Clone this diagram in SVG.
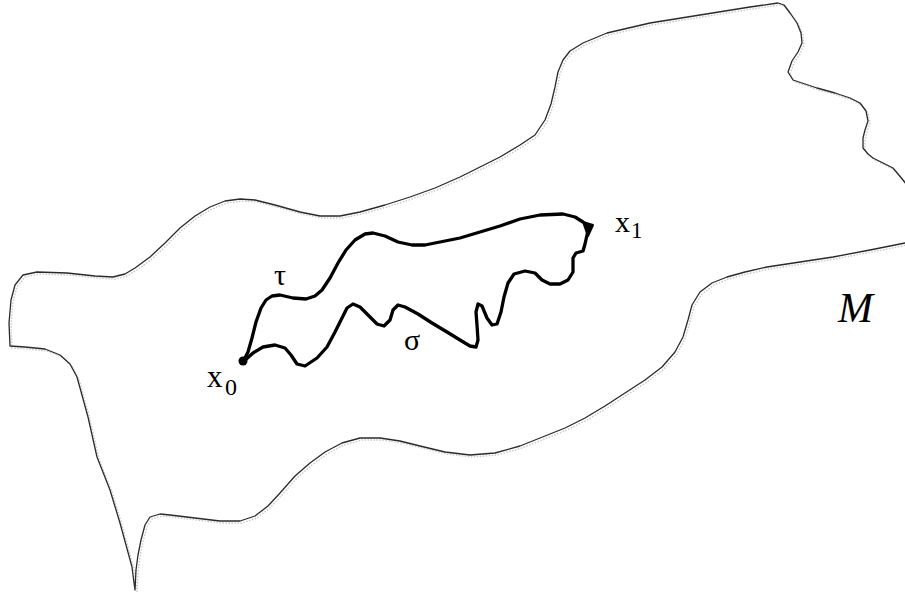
<svg xmlns="http://www.w3.org/2000/svg" width="905" height="593" viewBox="0 0 905 593">
<style>
.bd{fill:none;stroke:#2a2a2a;stroke-width:1.3;stroke-linejoin:round;stroke-linecap:round}
.sh{fill:none;stroke:#c8c8c8;stroke-width:1.4;stroke-dasharray:1.5 1.5}
.pt{fill:none;stroke:#000;stroke-width:3.3;stroke-linejoin:round;stroke-linecap:round}
.t{font-family:"Liberation Serif","Times New Roman",serif;fill:#000}
</style>
<defs>
<path id="outline" d="M135,590 L133,575 L132,567 L126,545 L120,523 L110,490 L97,457 L88,417 L77,377 L70,364 L60,355 L45,349 L25,347 L10,346 L9,323 L11,300 L15,285 L23,275 L37,272 L67,273 L95,276 L113,277 L125,274 L135,268 L150,257 L165,243 L180,228 L195,216 L210,207 L225,201 L240,199 L255,200 L275,205 L300,212 L320,216 L340,216 L360,212 L385,205 L410,197 L435,188 L460,177 L482,166 L500,157 L520,145 L535,135 L545,120 L551,104 L555,87 L558,72 L563,60 L570,51 L583,43 L607,33 L650,23 L700,15 L750,7 L778,3 L784,5 L790,13 L797,23 L801,33 L802,43 L798,52 L792,61 L788,72 L793,80 L805,84 L817,88 L835,93 L850,98 L860,103 L866,111 L868,121 L865,130 L863,138 L863,148 L868,154 L873,158 L883,163 L893,168 L903,180 L912,192 M912,242 L905,243 L870,250 L833,257 L800,262 L767,267 L745,272 L727,277 L712,283 L700,292 L692,305 L688,320 L683,337 L675,352 L662,367 L645,380 L625,393 L605,406 L585,418 L565,428 L545,436 L520,446 L495,453 L470,455 L445,452 L420,446 L400,441 L380,438 L360,438 L342,443 L325,452 L310,463 L295,476 L280,493 L268,506 L255,516 L240,521 L220,521 L195,518 L170,515 L160,514 L150,517 L145,525 L141,540 L138,555 L136,570 L135,590"/>
</defs>
<g id="manifold">
<use href="#outline" class="sh" transform="translate(2,2)"/>
<use href="#outline" class="bd"/>
</g>
<g id="connectors">
<path id="tau" class="pt" d="M243,362 L248,352 L252,338 L256,322 L261,308 L266,300 L272,296 L280,295 L293,298 L306,299 L315,296 L322,290 L330,278 L338,263 L346,250 L355,240 L365,234 L373,233 L385,236 L398,242 L412,245 L425,245 L440,242 L460,238 L480,232 L500,226 L520,219 L540,215 L563,214 L575,217 L583,222 L589,226"/>
<path id="sigma" class="pt" d="M589,226 L587,235 L585,244 L583,251 L576,253 L573,258 L573,272 L568,280 L560,284 L550,284 L542,280 L535,273 L525,271 L514,274 L508,283 L504,297 L501,312 L497,324 L492,325 L487,318 L482,306 L478,304 L476,312 L477,325 L478,340 L476,347 L470,346 L460,340 L447,332 L432,323 L418,314 L405,307 L398,305 L393,310 L390,320 L384,326 L377,324 L368,315 L360,307 L353,304 L347,308 L342,318 L335,332 L327,347 L317,358 L305,366 L297,364 L291,355 L285,348 L275,345 L263,347 L253,353 L243,362"/>
</g>
<g id="x0">
<circle cx="243" cy="361" r="4.5" fill="#000"/>
<text class="t" x="207" y="387" font-size="31">x</text>
<text class="t" x="225" y="395" font-size="24">0</text>
</g>
<g id="x1">
<path d="M583,222 L593,225 L588,236 Z" fill="#000" stroke="#000" stroke-width="2" stroke-linejoin="round"/>
<text class="t" x="615" y="232" font-size="30">x</text>
<text class="t" x="631" y="238" font-size="23">1</text>
</g>
<g id="labels">
<text class="t" x="274" y="285" font-size="30">τ</text>
<text class="t" x="404" y="350" font-size="30">σ</text>
<text class="t" x="838" y="322" font-size="42" font-style="italic">M</text>
</g>
</svg>
